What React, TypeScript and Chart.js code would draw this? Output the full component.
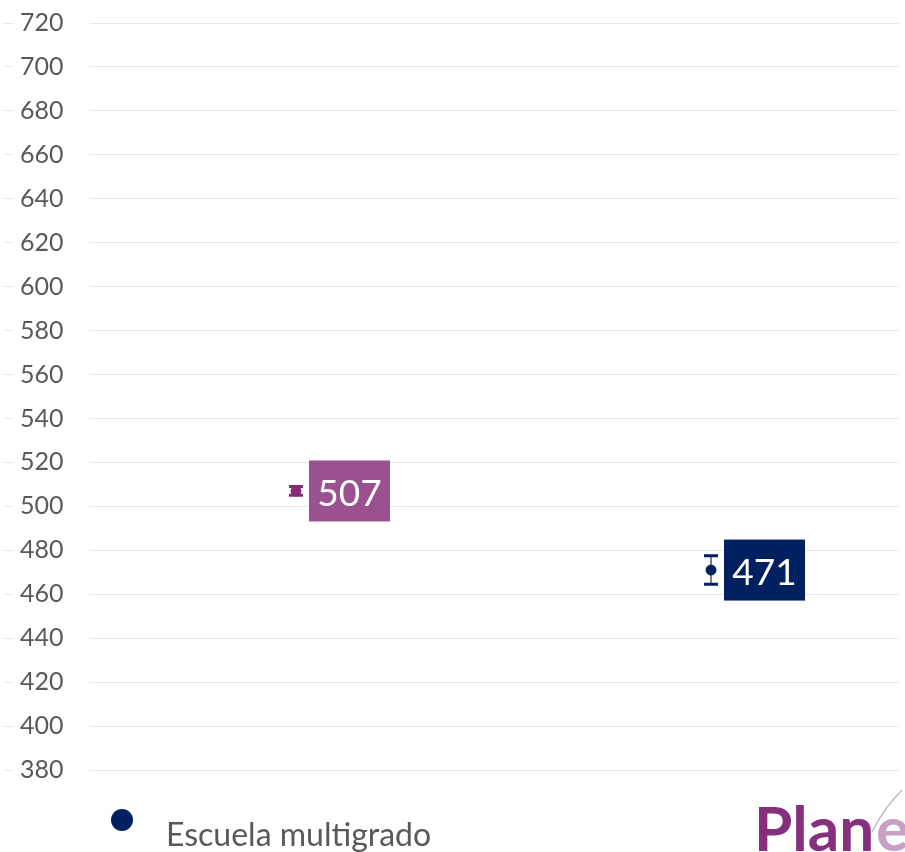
import React, { useEffect, useRef } from "react";
import { Chart, registerables } from "chart.js";

Chart.register(...registerables);

// ---- data ----
const categories = ["Nacional", "Escuela multigrado"];
const scores = [507, 471];
const errorMargins = [2, 6.5];
const legendEntries = ["Escuela multigrado"];
const yMin = 380;
const yMax = 720;
const yStep = 20;

// ---- styles ----
const pointColors = ["#862B79", "#002060"];
const boxColors = ["#9B5090", "#002060"];
const FONT = "Lato, 'Open Sans', sans-serif";
const TEXT_GRAY = "#595959";
const SHIFT = 31; // canvas is offset left so the plot area starts at the window edge

const errorBarPlugin = {
  id: "errorBars",
  beforeDatasetsDraw(chart: any) {
    const ctx = chart.ctx;
    const y = chart.scales.y;
    chart.data.datasets.forEach((ds: any, i: number) => {
      const meta = chart.getDatasetMeta(i);
      meta.data.forEach((pt: any) => {
        const v = scores[i];
        const e = errorMargins[i];
        const top = y.getPixelForValue(v + e);
        const bot = y.getPixelForValue(v - e);
        const x = pt.x;
        ctx.save();
        ctx.strokeStyle = "#7F7F7F";
        ctx.lineWidth = 2;
        ctx.beginPath();
        ctx.moveTo(x, top);
        ctx.lineTo(x, bot);
        ctx.stroke();
        ctx.strokeStyle = pointColors[i];
        ctx.lineWidth = 3;
        ctx.beginPath();
        ctx.moveTo(x - 7, top);
        ctx.lineTo(x + 7, top);
        ctx.moveTo(x - 7, bot);
        ctx.lineTo(x + 7, bot);
        ctx.stroke();
        ctx.restore();
      });
    });
  },
};

const valueLabelPlugin = {
  id: "valueLabels",
  afterDatasetsDraw(chart: any) {
    const ctx = chart.ctx;
    chart.data.datasets.forEach((ds: any, i: number) => {
      const meta = chart.getDatasetMeta(i);
      meta.data.forEach((pt: any) => {
        const w = 81;
        const h = 61;
        const left = pt.x + 13;
        const top = pt.y - h / 2;
        ctx.save();
        ctx.fillStyle = boxColors[i];
        ctx.fillRect(left, top, w, h);
        ctx.fillStyle = "#FFFFFF";
        ctx.font = `37px ${FONT}`;
        ctx.textAlign = "center";
        ctx.textBaseline = "alphabetic";
        ctx.fillText(String(scores[i]), left + w / 2, pt.y + 15);
        ctx.restore();
      });
    });
  },
};

const legendPlugin = {
  id: "customLegend",
  afterDraw(chart: any) {
    const ctx = chart.ctx;
    ctx.save();
    legendEntries.forEach((label) => {
      const idx = categories.indexOf(label);
      ctx.fillStyle = pointColors[idx];
      ctx.beginPath();
      ctx.arc(SHIFT + 122, 820, 11, 0, Math.PI * 2);
      ctx.fill();
      ctx.fillStyle = TEXT_GRAY;
      ctx.font = `32px ${FONT}`;
      ctx.textAlign = "left";
      ctx.textBaseline = "alphabetic";
      ctx.fillText(label, SHIFT + 166, 846);
    });
    ctx.restore();
  },
};

const logoPlugin = {
  id: "logo",
  afterDraw(chart: any) {
    const ctx = chart.ctx;
    const x0 = SHIFT + 754;
    ctx.save();
    ctx.font = `bold 62px ${FONT}`;
    ctx.textBaseline = "alphabetic";
    ctx.textAlign = "left";
    ctx.fillStyle = "#862F7D";
    ctx.fillText("Plan", x0, 851);
    const w = ctx.measureText("Plan").width;
    ctx.fillStyle = "#C7A0C6";
    ctx.fillText("ea", x0 + w + 2, 851);
    ctx.strokeStyle = "#C9B5C9";
    ctx.lineWidth = 1.5;
    ctx.beginPath();
    ctx.moveTo(SHIFT + 872, 832);
    ctx.quadraticCurveTo(SHIFT + 884, 808, SHIFT + 902, 790);
    ctx.stroke();
    ctx.restore();
  },
};

export default function App() {
  const ref = useRef<HTMLCanvasElement | null>(null);

  useEffect(() => {
    if (!ref.current) return;
    const chart = new Chart(ref.current, {
      type: "scatter",
      data: {
        datasets: categories.map((c, i) => ({
          label: c,
          data: [{ x: i, y: scores[i] }],
          backgroundColor: pointColors[i],
          borderColor: pointColors[i],
          pointRadius: 5,
          pointHoverRadius: 5,
        })),
      },
      options: {
        animation: false,
        responsive: false,
        devicePixelRatio: 1,
        layout: { padding: { top: 23, bottom: 82, left: 0, right: 0 } },
        plugins: {
          legend: { display: false },
          tooltip: { enabled: false },
        },
        scales: {
          x: {
            type: "linear",
            display: false,
            min: -0.706,
            max: 1.453,
          },
          y: {
            min: yMin,
            max: yMax,
            border: { display: false },
            grid: { color: "#E8E8E8", lineWidth: 1, drawTicks: false },
            ticks: {
              stepSize: yStep,
              mirror: true,
              padding: 17,
              color: TEXT_GRAY,
              font: { family: FONT, size: 25, lineHeight: 0.4 },
              showLabelBackdrop: true,
              backdropColor: "#FFFFFF",
              backdropPadding: { left: 6, right: 26, top: 6, bottom: 6 },
            },
          },
        },
      } as any,
      plugins: [errorBarPlugin, valueLabelPlugin, legendPlugin, logoPlugin],
    });
    return () => chart.destroy();
  }, []);

  return (
    <div
      style={{
        position: "absolute",
        top: 0,
        left: 0,
        width: 905,
        height: 852,
        overflow: "hidden",
        background: "#FFFFFF",
      }}
    >
      <canvas
        ref={ref}
        width={905 + SHIFT}
        height={852}
        style={{ display: "block", marginLeft: -SHIFT }}
      />
    </div>
  );
}
